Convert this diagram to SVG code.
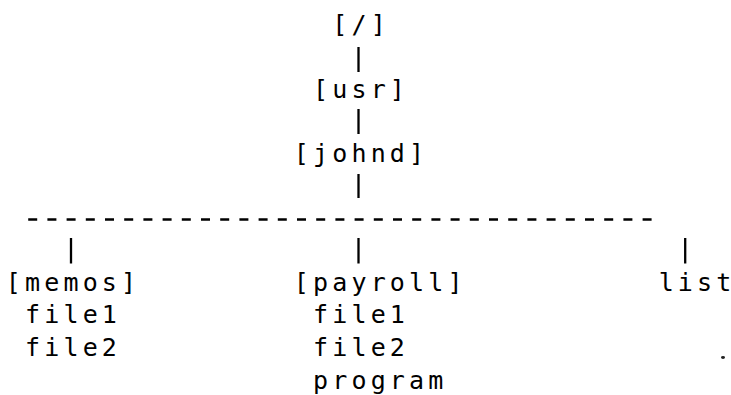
<svg xmlns="http://www.w3.org/2000/svg" width="731" height="395" viewBox="0 0 731 395">
  <style>
    .t { font-family: "DejaVu Sans Mono", "Liberation Mono", monospace; font-size: 25px; fill: #000; text-anchor: middle; }
    .bar { stroke: #000; stroke-width: 2.3; fill: none; }
    .dash { stroke: #000; stroke-width: 2.5; fill: none; stroke-dasharray: 9 10.2; }
  </style>
  <rect width="731" height="395" fill="#fff"/>

  <!-- directory tree, laid out on a fixed 19.2px character grid -->
  <g id="connectors">
    <line class="bar" x1="358.5" y1="47" x2="358.5" y2="72"/>
    <line class="bar" x1="358.5" y1="109" x2="358.5" y2="134"/>
    <line class="bar" x1="358.5" y1="174" x2="358.5" y2="198"/>
    <line class="dash" x1="28.2" y1="219.5" x2="651.6" y2="219.5"/>
    <line class="bar" x1="71" y1="238" x2="71" y2="263.5"/>
    <line class="bar" x1="358.5" y1="238" x2="358.5" y2="263.5"/>
    <line class="bar" x1="685.2" y1="238" x2="685.2" y2="263.5"/>
  </g>

  <g id="root"><text class="t" x="339.8 359 378.2" y="32.5">[/]</text></g>
  <g id="usr"><text class="t" x="320.6 339.8 359 378.2 397.4" y="98.3">[usr]</text></g>
  <g id="johnd"><text class="t" x="301.4 320.6 339.8 359 378.2 397.4 416.6" y="161.5">[johnd]</text></g>

  <g id="memos">
    <text class="t" x="13.4 32.6 51.8 71 90.2 109.4 128.6" y="291.3">[memos]</text>
  </g>
  <g id="memos-file1"><text class="t" x="32.6 51.8 71 90.2 109.4" y="323">file1</text></g>
  <g id="memos-file2"><text class="t" x="32.6 51.8 71 90.2 109.4" y="355.5">file2</text></g>

  <g id="payroll">
    <text class="t" x="301.4 320.6 339.8 359 378.2 397.4 416.6 435.8 455" y="291.3">[payroll]</text>
  </g>
  <g id="payroll-file1"><text class="t" x="320.6 339.8 359 378.2 397.4" y="323">file1</text></g>
  <g id="payroll-file2"><text class="t" x="320.6 339.8 359 378.2 397.4" y="355.5">file2</text></g>
  <g id="payroll-program"><text class="t" x="320.6 339.8 359 378.2 397.4 416.6 435.8" y="389">program</text></g>

  <g id="list"><text class="t" x="666.2 685.4 704.6 723.8" y="291.3">list</text></g>

  <!-- stray ink speck -->
  <ellipse cx="723" cy="357.5" rx="2" ry="1.4" fill="#222"/>
</svg>
